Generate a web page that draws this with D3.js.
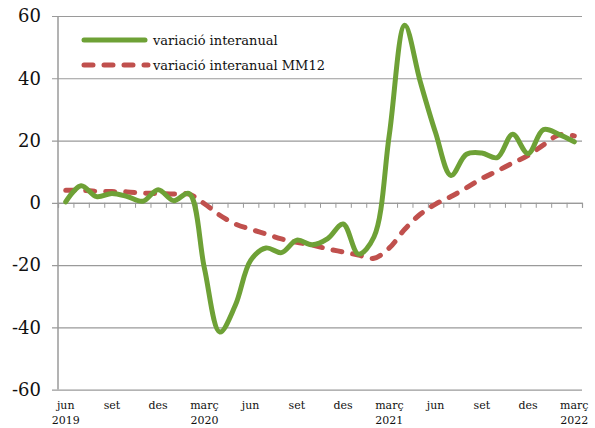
<!DOCTYPE html>
<head>
    <meta charset="utf-8">
    <script src="https://cdn.jsdelivr.net/npm/d3@7"></script>
</head>
<style>
    body { margin: 0; background: white; }
    text { font-family: "DejaVu Serif", serif; fill: #111; }
</style>
<body>
<svg id="chart" width="595" height="428"></svg>
</body>
<script>
    // monthly, jun 2019 .. març 2022
    var months = ["jun","jul","ago","set","oct","nov","des","gen","feb","març","abr","mai",
                  "jun","jul","ago","set","oct","nov","des","gen","feb","març","abr","mai",
                  "jun","jul","ago","set","oct","nov","des","gen","feb","març"]
    var variacio = [0.3, 5.5, 2, 3, 2, 0.5, 4.2, 0.7, 3, -21, -41.5, -33,
                    -18.5, -14.5, -16, -12, -13.5, -11.5, -6.8, -16.5, -11, 22, 57, 39,
                    22.5, 8.8, 15.6, 16, 14.5, 22, 15.8, 23.5, 22, 19.6]
    var mm12 = [4, 4, 3.7, 3.6, 3.5, 3.1, 3, 2.8, 2.8, -0.3, -4, -6.8,
                -8.5, -10, -11.6, -12.7, -13.6, -14.8, -15.8, -16.8, -17.8, -14.5, -8.5, -3.7,
                -0.4, 2, 4.8, 7.8, 10.2, 12.8, 15.2, 18.6, 21.8, 21.5]
    var yTicks = [-60, -40, -20, 0, 20, 40, 60]
    var xLabelIdx = [0, 3, 6, 9, 12, 15, 18, 21, 24, 27, 30, 33]
    var yearLabels = {0: "2019", 9: "2020", 21: "2021", 33: "2022"}
    var legendNames = ["variació interanual", "variació interanual MM12"]

    var svg = d3.select("#chart")
    var plotL = 58, plotR = 582, plotT = 16, plotB = 389.6

    var x = d3.scaleBand().domain(d3.range(months.length)).range([plotL, plotR])
    var xb = d3.scaleLinear().domain([0, months.length]).range([plotL, plotR])
    var y = d3.scaleLinear().domain([-60, 60]).range([plotB, plotT])

    // gridlines
    svg.append("g")
        .attr("transform", "translate(" + plotR + ",0)")
        .call(d3.axisLeft(y).tickValues(yTicks).tickSize(plotR - 52).tickFormat(""))
        .call(g => g.select(".domain").remove())
        .call(g => g.selectAll("line").attr("stroke", "#9a9a9a").attr("stroke-width", 1.2))

    // y labels (plain hyphen like the original)
    svg.append("g")
        .attr("transform", "translate(52,0)")
        .call(d3.axisLeft(y).tickValues(yTicks).tickSize(0).tickPadding(11).tickFormat(d => String(d)))
        .call(g => g.select(".domain").remove())
        .call(g => g.selectAll("text")
            .style("font-family", "DejaVu Serif").style("font-size", "18px").attr("fill", "#111"))

    // y axis line
    svg.append("line")
        .attr("x1", plotL).attr("x2", plotL).attr("y1", plotT).attr("y2", plotB)
        .attr("stroke", "#9a9a9a").attr("stroke-width", 1.5)

    // x axis ticks on the 0 line
    svg.append("g")
        .attr("transform", "translate(0," + y(0) + ")")
        .call(d3.axisBottom(xb).tickValues(d3.range(months.length + 1)).tickSize(5).tickFormat(""))
        .call(g => g.select(".domain").attr("stroke", "#9a9a9a").attr("stroke-width", 1.2))
        .call(g => g.selectAll("line").attr("stroke", "#9a9a9a"))

    // x labels at bottom
    var xl = svg.append("g")
    xLabelIdx.forEach(function(i) {
        xl.append("text")
            .attr("x", x(i) + x.bandwidth() / 2)
            .attr("y", 409)
            .attr("text-anchor", "middle")
            .style("font-size", "11px")
            .text(months[i])
        if (yearLabels[i])
            xl.append("text")
                .attr("x", x(i) + x.bandwidth() / 2)
                .attr("y", 424)
                .attr("text-anchor", "middle")
                .style("font-size", "11px")
                .text(yearLabels[i])
    })

    var line = d3.line()
        .x((d, i) => x(i) + x.bandwidth() / 2)
        .y(d => y(d))
        .curve(d3.curveCatmullRom.alpha(0.5))

    svg.append("path")
        .datum(mm12)
        .attr("d", line)
        .attr("fill", "none")
        .attr("stroke", "#c0504d")
        .attr("stroke-width", 5)
        .attr("stroke-linecap", "round")
        .attr("stroke-dasharray", "9,11")

    svg.append("path")
        .datum(variacio)
        .attr("d", line)
        .attr("fill", "none")
        .attr("stroke", "#6ea136")
        .attr("stroke-width", 5)
        .attr("stroke-linejoin", "round")
        .attr("stroke-linecap", "round")

    // legend
    var lg = svg.append("g")
    lg.append("line").attr("x1", 84).attr("x2", 145).attr("y1", 40).attr("y2", 40)
        .attr("stroke", "#6ea136").attr("stroke-width", 5).attr("stroke-linecap", "round")
    lg.append("line").attr("x1", 84).attr("x2", 148).attr("y1", 65).attr("y2", 65)
        .attr("stroke", "#c0504d").attr("stroke-width", 5).attr("stroke-linecap", "round")
        .attr("stroke-dasharray", "9,11")
    legendNames.forEach(function(n, i) {
        lg.append("text")
            .attr("x", 153).attr("y", 45 + i * 25)
            .style("font-size", "13px")
            .text(n)
    })
</script>
</html>
